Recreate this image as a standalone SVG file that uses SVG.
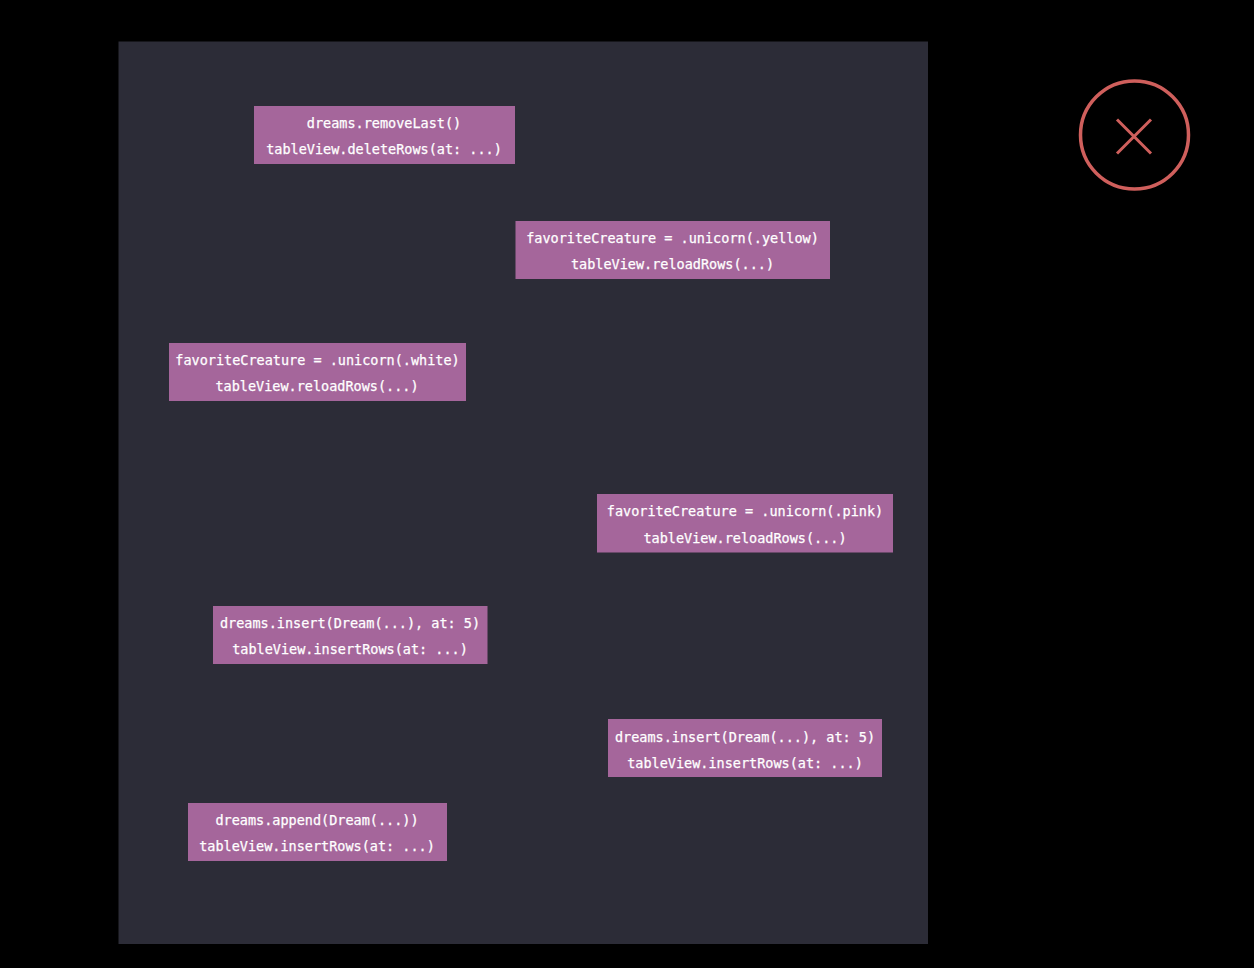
<svg xmlns="http://www.w3.org/2000/svg" width="1254" height="968" viewBox="0 0 1254 968">
<style>
.n{fill:#a5669b}
text{font-family:"DejaVu Sans Mono","Liberation Mono",monospace;font-size:13.5px;fill:#fff;stroke:#fff;stroke-width:.25px;text-anchor:middle}
</style>
<rect width="1254" height="968" fill="#000"/>
<rect x="118.500" y="41.500" width="809.500" height="902.500" fill="#2c2c37"/>
<g id="connectors"/>
<g id="n1"><rect class="n" x="254" y="106" width="261" height="58"/><text x="384" y="128">dreams.removeLast()</text><text x="384" y="154">tableView.deleteRows(at: ...)</text></g>
<g id="n2"><rect class="n" x="515.500" y="221" width="314.500" height="58"/><text x="672.500" y="243">favoriteCreature = .unicorn(.yellow)</text><text x="672.500" y="269">tableView.reloadRows(...)</text></g>
<g id="n3"><rect class="n" x="169" y="343" width="297" height="58"/><text x="317.500" y="365">favoriteCreature = .unicorn(.white)</text><text x="317" y="391">tableView.reloadRows(...)</text></g>
<g id="n4"><rect class="n" x="597" y="494" width="296" height="58.500"/><text x="745" y="516">favoriteCreature = .unicorn(.pink)</text><text x="745" y="543">tableView.reloadRows(...)</text></g>
<g id="n5"><rect class="n" x="213" y="606" width="274.500" height="58"/><text x="350" y="628">dreams.insert(Dream(...), at: 5)</text><text x="350" y="654">tableView.insertRows(at: ...)</text></g>
<g id="n6"><rect class="n" x="608" y="719" width="274" height="58"/><text x="745" y="742">dreams.insert(Dream(...), at: 5)</text><text x="745" y="768">tableView.insertRows(at: ...)</text></g>
<g id="n7"><rect class="n" x="188" y="803" width="259" height="58"/><text x="317" y="825">dreams.append(Dream(...))</text><text x="317" y="851">tableView.insertRows(at: ...)</text></g>
<g id="cross" fill="none" stroke="#cf5f5c" stroke-width="3.500"><circle cx="1134.500" cy="135" r="54"/><path d="M1117 119.500L1151 153.500M1151 119.500L1117 153.500" stroke-width="3"/></g>
</svg>
